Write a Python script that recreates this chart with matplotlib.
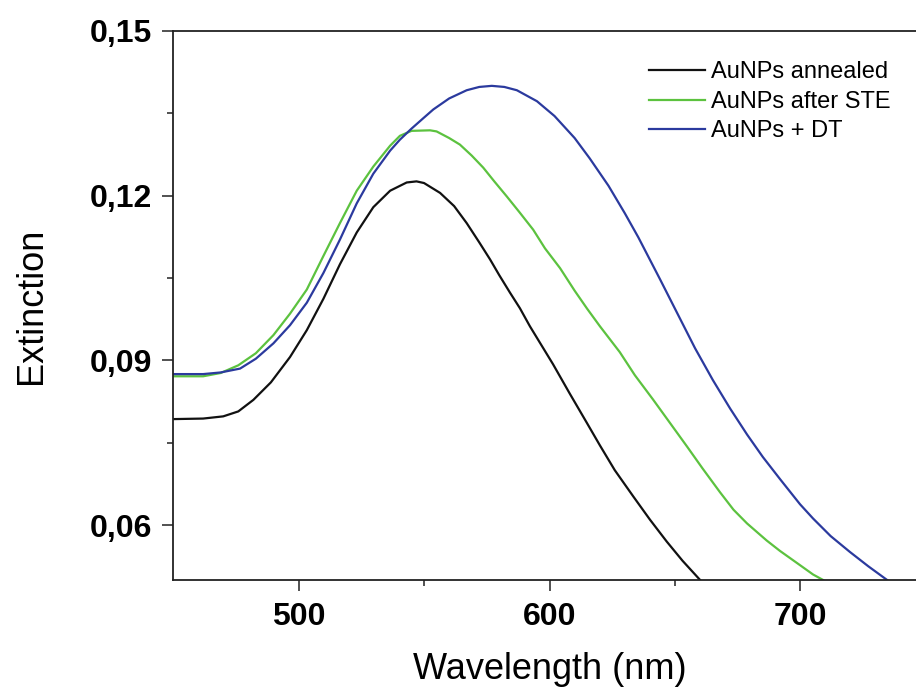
import matplotlib
matplotlib.use("Agg")
import matplotlib.pyplot as plt
from matplotlib.ticker import FixedLocator

# ---- data ----
wl_black = [450, 462, 470, 476, 482, 489, 496.6, 503.3, 509.9, 516.5, 523.2, 529.8,
            536.5, 543.1, 547, 550, 556.4, 562, 567, 572, 576.3, 580, 584.3, 588.2,
            592.2, 601.4, 608, 614.9, 620.1, 626, 633.4, 640, 646.7, 653, 660]
ext_black = [0.0793, 0.0794, 0.0798, 0.0807, 0.0828, 0.0860, 0.0906, 0.0955, 0.1012,
             0.1075, 0.1133, 0.1179, 0.1209, 0.1224, 0.1226, 0.1223, 0.1205, 0.1181,
             0.1150, 0.1115, 0.1084, 0.1055, 0.1023, 0.0995, 0.0962, 0.0893, 0.0840,
             0.0786, 0.0745, 0.0700, 0.0652, 0.0610, 0.0570, 0.0535, 0.0500]

wl_green = [450, 462, 469, 476, 483, 490, 496.6, 503.3, 509.9, 516.5, 523.2, 529.8,
            536.5, 540.4, 545, 552.4, 555, 560, 564.3, 569, 573.6, 578, 582.9, 588,
            593.5, 598.2, 604.2, 610, 615, 620.1, 628, 634, 641.2, 648, 654.8, 661,
            667.9, 673.3, 678.7, 686.5, 691.8, 699.8, 705, 709]
ext_green = [0.0871, 0.0871, 0.0877, 0.0891, 0.0913, 0.0946, 0.0985, 0.1029, 0.1090,
             0.1150, 0.1209, 0.1253, 0.1291, 0.1309, 0.1318, 0.1319, 0.1317, 0.1305,
             0.1293, 0.1273, 0.1251, 0.1226, 0.1199, 0.1170, 0.1138, 0.1104, 0.1068,
             0.1027, 0.0994, 0.0962, 0.0915, 0.0873, 0.0829, 0.0786, 0.0743, 0.0703,
             0.0660, 0.0628, 0.0603, 0.0572, 0.0553, 0.0527, 0.0510, 0.0500]

wl_blue = [450, 462, 469, 476.7, 483, 490, 496.6, 503.3, 509.9, 516.5, 523.2, 529.8,
           536.5, 540.4, 545, 549.7, 553.7, 560, 567, 572, 577, 582, 587, 595, 602,
           610, 616, 623.5, 630, 635.4, 644, 652, 658, 665.1, 672, 678.7, 685, 691.8,
           699.8, 705, 712, 719.7, 727, 734.5]
ext_blue = [0.0875, 0.0875, 0.0878, 0.0885, 0.0903, 0.0931, 0.0964, 0.1005, 0.1059,
            0.1120, 0.1186, 0.1240, 0.1282, 0.1302, 0.1322, 0.1341, 0.1357, 0.1377,
            0.1392, 0.1398, 0.1400, 0.1398, 0.1392, 0.1372, 0.1345, 0.1305, 0.1268,
            0.1218, 0.1168, 0.1124, 0.1048, 0.0976, 0.0922, 0.0864, 0.0812, 0.0765,
            0.0724, 0.0684, 0.0638, 0.0612, 0.0580, 0.0551, 0.0525, 0.0500]

labels = ["AuNPs annealed", "AuNPs after STE", "AuNPs + DT"]
colors = ["#111111", "#5cc23f", "#2b3a9e"]

x_ticks = [500, 600, 700]
x_ticklabels = ["500", "600", "700"]
y_ticks = [0.06, 0.09, 0.12, 0.15]
y_ticklabels = ["0,06", "0,09", "0,12", "0,15"]

# ---- figure ----
plt.rcParams['font.family'] = ['Liberation Sans', 'DejaVu Sans']
fig = plt.figure(figsize=(9.16, 6.97), dpi=100)
ax = fig.add_axes([0.1889, 0.1679, 0.822, 0.7877])

for wl, ext, lab, col in zip([wl_black, wl_green, wl_blue],
                             [ext_black, ext_green, ext_blue], labels, colors):
    ax.plot(wl, ext, color=col, lw=1.6, label=lab, solid_joinstyle='round')

ax.set_xlim(450, 750)
ax.set_ylim(0.05, 0.15)

ax.xaxis.set_major_locator(FixedLocator(x_ticks))
ax.set_xticklabels(x_ticklabels)
ax.xaxis.set_minor_locator(FixedLocator([550, 650, 750]))
ax.yaxis.set_major_locator(FixedLocator(y_ticks))
ax.set_yticklabels(y_ticklabels)
ax.yaxis.set_minor_locator(FixedLocator([0.075, 0.105, 0.135]))

ax.tick_params(axis='both', which='major', direction='out', length=8, width=1.1,
               labelsize=23, pad=7, colors='#222222', labelcolor='black')
ax.tick_params(axis='both', which='minor', direction='out', length=4, width=1.1,
               colors='#222222')
ax.tick_params(axis='x', which='major', pad=8)
for t in ax.get_xticklabels() + ax.get_yticklabels():
    t.set_fontweight('bold')

for s in ['left', 'bottom', 'top', 'right']:
    ax.spines[s].set_linewidth(1.3)
    ax.spines[s].set_color('#222222')

ax.set_xlabel("Wavelength (nm)", fontsize=26, labelpad=14)
ax.set_ylabel("Extinction", fontsize=26)
ax.yaxis.set_label_coords(-0.165, 0.5)

leg = ax.legend(loc='upper left', bbox_to_anchor=(0.62, 0.962), frameon=False,
                fontsize=17, handlelength=2.35, handletextpad=0.25, labelspacing=0.32,
                borderaxespad=0)

fig.savefig("out.png", dpi=100)
